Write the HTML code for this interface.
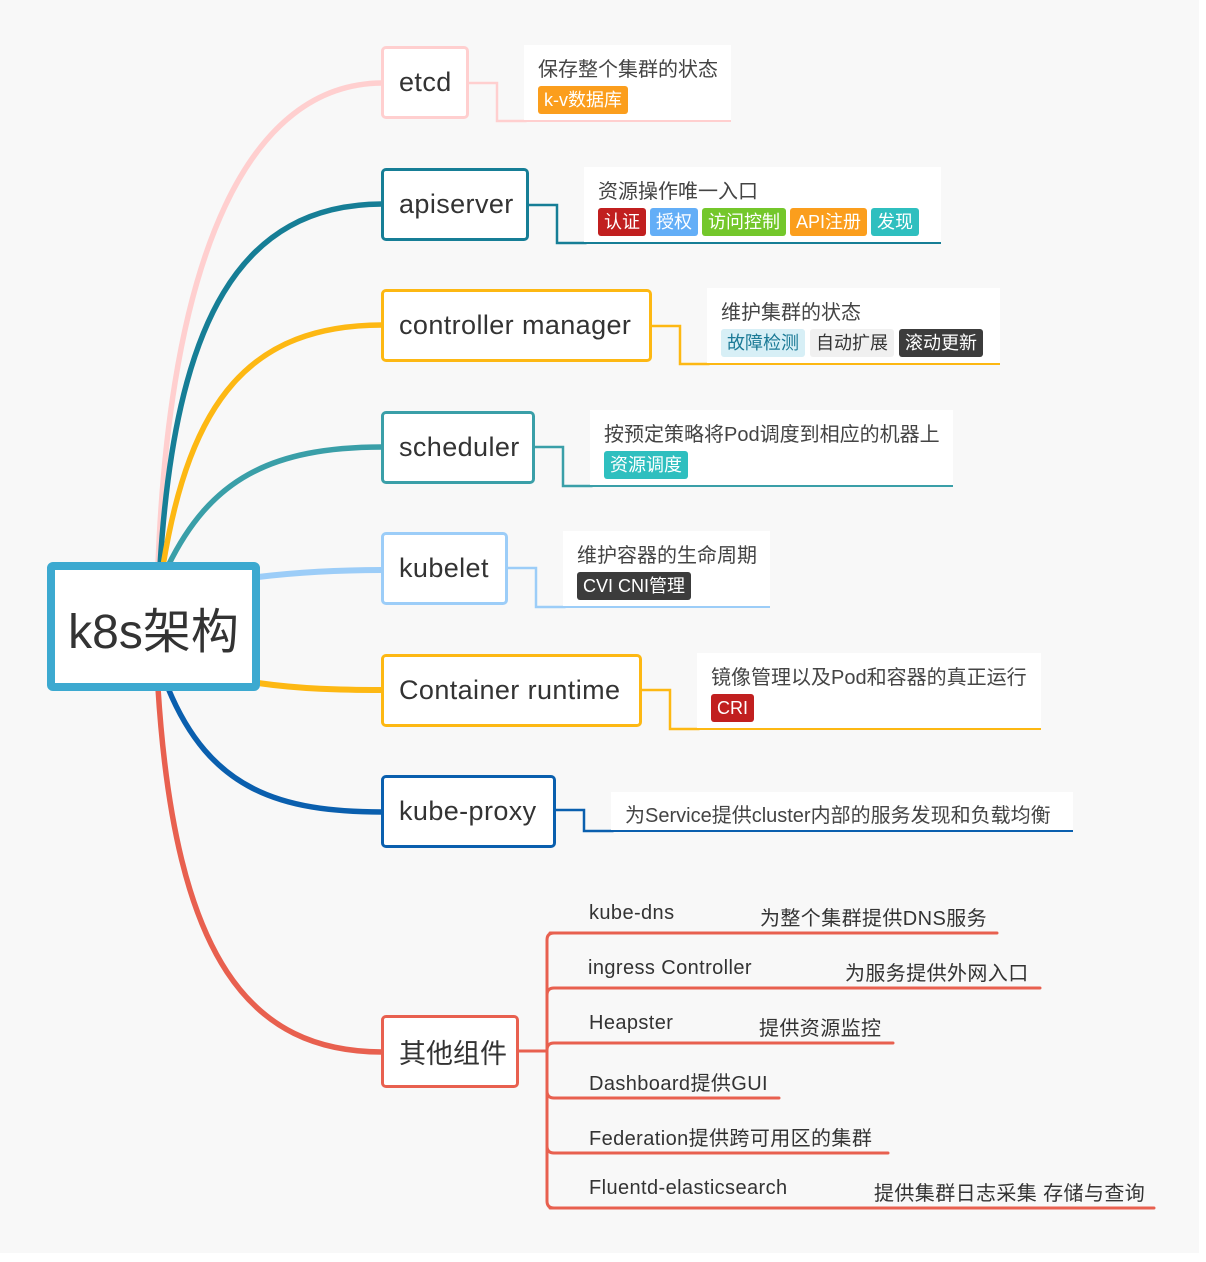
<!DOCTYPE html>
<html><head><meta charset="utf-8">
<style>
*{margin:0;padding:0;box-sizing:border-box}
body{width:1206px;height:1262px;background:#fff;position:relative;overflow:hidden;font-family:"Liberation Sans","Noto Sans CJK SC",sans-serif;color:#333}
#bg{position:absolute;left:0;top:0;width:1199px;height:1253px;background:#f8f8f8}
.n{position:absolute;background:#fff;border:3px solid;border-radius:5px;font-size:27px;letter-spacing:0.4px;display:flex;align-items:center;padding-left:15px;color:#333}
.note{position:absolute;background:#fff;border-bottom:2px solid}
.note .t{position:absolute;left:14px;top:8px;font-size:20px;color:#444;white-space:nowrap}
.tags{position:absolute;left:14px;top:41px;display:flex;gap:5px}
.tag{font-size:18px;height:28px;line-height:28px;padding:0 6px;border-radius:3px;color:#fff;white-space:nowrap}
.o{position:absolute;font-size:20px;color:#333;white-space:nowrap;letter-spacing:0.4px}
</style></head><body>
<div id="bg"></div>
<svg width="1206" height="1262" style="position:absolute;left:0;top:0" fill="none" stroke-linecap="round">
<path d="M158,566 C170,250 250,83 383,83" stroke="#ffcfcf" stroke-width="5.5"/>
<path d="M160,566 C175,320 240,204 383,204" stroke="#167e96" stroke-width="5.5"/>
<path d="M163,566 C190,400 250,325 383,325" stroke="#fdb813" stroke-width="5.5"/>
<path d="M168,566 C210,480 270,447 383,447" stroke="#3a9fa8" stroke-width="5.5"/>
<path d="M258,577 C300,572 340,570 383,570" stroke="#9ccdf8" stroke-width="6"/>
<path d="M258,683 C300,689 340,690 383,690" stroke="#fdb813" stroke-width="6"/>
<path d="M168,688 C210,790 280,812 383,812" stroke="#0a5fae" stroke-width="5.5"/>
<path d="M158,688 C175,960 250,1052 383,1052" stroke="#e8604f" stroke-width="5.5"/>
<polyline points="469,83 497,83 497,121 526,121" stroke="#ffcfcf" stroke-width="2.5" fill="none"/>
<polyline points="529,205 557,205 557,243 586,243" stroke="#167e96" stroke-width="2.5" fill="none"/>
<polyline points="652,326 680,326 680,364 709,364" stroke="#fdb813" stroke-width="2.5" fill="none"/>
<polyline points="535,447 563,447 563,486 592,486" stroke="#3a9fa8" stroke-width="2.5" fill="none"/>
<polyline points="508,568 536,568 536,607 565,607" stroke="#9ccdf8" stroke-width="2.5" fill="none"/>
<polyline points="642,690 670,690 670,729 699,729" stroke="#fdb813" stroke-width="2.5" fill="none"/>
<polyline points="556,810 584,810 584,831 613,831" stroke="#0a5fae" stroke-width="2.5" fill="none"/>
<g stroke="#e8604f" stroke-width="3" fill="none">
<line x1="519" y1="1051" x2="547" y2="1051"/>
<path d="M554,933 Q547,933 547,940 L547,1201 Q547,1208 554,1208"/>
<line x1="550" y1="933" x2="997" y2="933"/>
<path d="M547,995 Q547,988 554,988 L1040,988"/>
<path d="M547,1050 Q547,1043 554,1043 L893,1043"/>
<path d="M547,1091 Q547,1098 554,1098 L779,1098"/>
<path d="M547,1146 Q547,1153 554,1153 L888,1153"/>
<line x1="550" y1="1208" x2="1154" y2="1208"/>
</g>
</svg>

<div class="n" style="left:47px;top:562px;width:213px;height:129px;border:8px solid #3ca9d0;border-radius:6px;font-size:48px;letter-spacing:0;justify-content:center;padding:0">k8s架构</div>

<div class="n" style="left:381px;top:46px;width:88px;height:73px;border-color:#ffcfcf">etcd</div>
<div class="n" style="left:381px;top:168px;width:148px;height:73px;border-color:#167e96">apiserver</div>
<div class="n" style="left:381px;top:289px;width:271px;height:73px;border-color:#fdb813">controller manager</div>
<div class="n" style="left:381px;top:411px;width:154px;height:73px;border-color:#3a9fa8">scheduler</div>
<div class="n" style="left:381px;top:532px;width:127px;height:73px;border-color:#9ccdf8">kubelet</div>
<div class="n" style="left:381px;top:654px;width:261px;height:73px;border-color:#fdb813">Container runtime</div>
<div class="n" style="left:381px;top:775px;width:175px;height:73px;border-color:#0a5fae">kube-proxy</div>
<div class="n" style="left:381px;top:1015px;width:138px;height:73px;border-color:#e8604f;letter-spacing:0">其他组件</div>

<div class="note" style="left:524px;top:45px;width:207px;height:77px;border-color:#ffcfcf"><div class="t">保存整个集群的状态</div><div class="tags"><span class="tag" style="background:#fb9e1d">k-v数据库</span></div></div>
<div class="note" style="left:584px;top:167px;width:357px;height:77px;border-color:#167e96"><div class="t">资源操作唯一入口</div><div class="tags" style="gap:4px"><span class="tag" style="background:#c11f1f">认证</span><span class="tag" style="background:#63aef7">授权</span><span class="tag" style="background:#74c72b">访问控制</span><span class="tag" style="background:#fb9e1d">API注册</span><span class="tag" style="background:#2fbfbf">发现</span></div></div>
<div class="note" style="left:707px;top:288px;width:293px;height:77px;border-color:#fdb813"><div class="t">维护集群的状态</div><div class="tags"><span class="tag" style="background:#d7eff6;color:#1b7a96">故障检测</span><span class="tag" style="background:#f0f0f0;color:#333">自动扩展</span><span class="tag" style="background:#3c3c3c">滚动更新</span></div></div>
<div class="note" style="left:590px;top:410px;width:363px;height:77px;border-color:#3a9fa8"><div class="t">按预定策略将Pod调度到相应的机器上</div><div class="tags"><span class="tag" style="background:#2fbfbf">资源调度</span></div></div>
<div class="note" style="left:563px;top:531px;width:207px;height:77px;border-color:#9ccdf8"><div class="t">维护容器的生命周期</div><div class="tags"><span class="tag" style="background:#3c3c3c">CVI CNI管理</span></div></div>
<div class="note" style="left:697px;top:653px;width:344px;height:77px;border-color:#fdb813"><div class="t">镜像管理以及Pod和容器的真正运行</div><div class="tags"><span class="tag" style="background:#c11f1f">CRI</span></div></div>
<div class="note" style="left:611px;top:792px;width:462px;height:40px;border-color:#0a5fae"><div class="t" style="top:7px">为Service提供cluster内部的服务发现和负载均衡</div></div>

<div class="o" style="left:589px;top:902px">kube-dns</div><div class="o" style="left:760px;top:902px">为整个集群提供DNS服务</div>
<div class="o" style="left:588px;top:957px">ingress Controller</div><div class="o" style="left:845px;top:957px">为服务提供外网入口</div>
<div class="o" style="left:589px;top:1012px">Heapster</div><div class="o" style="left:759px;top:1012px">提供资源监控</div>
<div class="o" style="left:589px;top:1067px">Dashboard提供GUI</div>
<div class="o" style="left:589px;top:1122px">Federation提供跨可用区的集群</div>
<div class="o" style="left:589px;top:1177px">Fluentd-elasticsearch</div><div class="o" style="left:874px;top:1177px">提供集群日志采集 存储与查询</div>
</body></html>
